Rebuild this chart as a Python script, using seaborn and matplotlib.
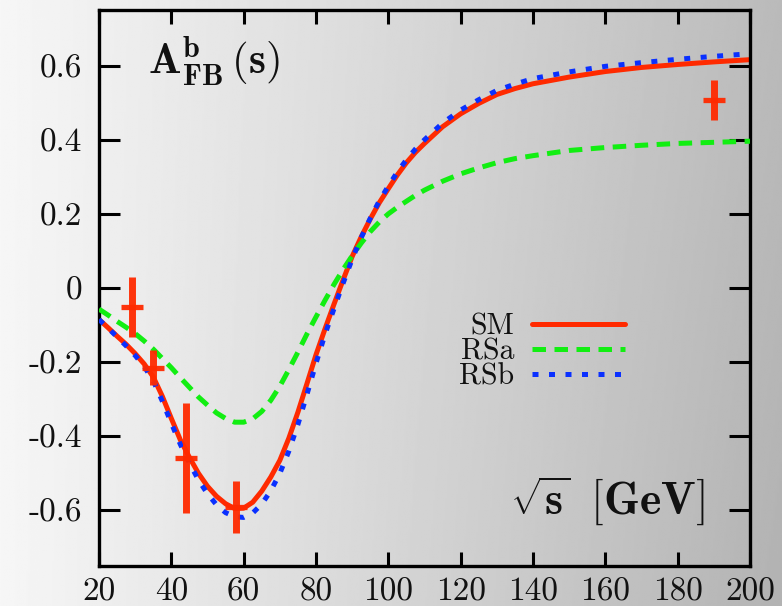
import numpy as np
import pandas as pd
import matplotlib
matplotlib.use("Agg")
import matplotlib.pyplot as plt
from matplotlib.lines import Line2D
from matplotlib.font_manager import FontProperties
import seaborn as sns

# centre-of-mass energy grid (GeV) for the model curves
sqrt_s = [20, 22.5, 25, 27.5, 30, 32.5, 35, 37.5, 40, 42.5, 45, 47.5, 50, 52.5,
          55, 57.5, 60, 62.5, 65, 67.5, 70, 72.5, 75, 77.5, 80, 82.5, 85, 87.5,
          90, 92.5, 95, 97.5, 100, 102.5, 105, 107.5, 110, 115, 120, 125, 130,
          135, 140, 150, 160, 170, 180, 190, 200]

afb_sm = [-0.085, -0.107, -0.130, -0.152, -0.177, -0.205, -0.240, -0.292, -0.352,
          -0.410, -0.457, -0.500, -0.535, -0.562, -0.582, -0.595, -0.594, -0.578,
          -0.548, -0.510, -0.465, -0.405, -0.335, -0.258, -0.180, -0.110, -0.043,
          0.022, 0.085, 0.138, 0.186, 0.230, 0.268, 0.305, 0.338, 0.366, 0.390,
          0.435, 0.470, 0.498, 0.522, 0.538, 0.551, 0.569, 0.584, 0.595, 0.603,
          0.610, 0.616]

afb_rsa = [-0.057, -0.073, -0.090, -0.106, -0.123, -0.143, -0.165, -0.190, -0.215,
           -0.242, -0.268, -0.294, -0.316, -0.337, -0.352, -0.362, -0.362, -0.353,
           -0.333, -0.303, -0.265, -0.220, -0.173, -0.124, -0.078, -0.033, 0.010,
           0.050, 0.087, 0.121, 0.152, 0.178, 0.200, 0.218, 0.234, 0.250, 0.264,
           0.288, 0.308, 0.324, 0.338, 0.349, 0.357, 0.371, 0.379, 0.385, 0.390,
           0.393, 0.396]

afb_rsb = [-0.085, -0.108, -0.132, -0.156, -0.182, -0.212, -0.250, -0.305, -0.365,
           -0.422, -0.472, -0.518, -0.555, -0.585, -0.606, -0.617, -0.619, -0.607,
           -0.583, -0.547, -0.500, -0.440, -0.368, -0.287, -0.203, -0.125, -0.055,
           0.013, 0.078, 0.136, 0.188, 0.235, 0.275, 0.313, 0.346, 0.375, 0.400,
           0.445, 0.480, 0.508, 0.533, 0.550, 0.565, 0.583, 0.598, 0.608, 0.617,
           0.625, 0.632]

# measurements
meas_s = [29, 35, 44, 58, 190]
meas_afb = [-0.051, -0.215, -0.458, -0.592, 0.506]
meas_err = [0.080, 0.047, 0.148, 0.070, 0.054]

x_ticks = [20, 40, 60, 80, 100, 120, 140, 160, 180, 200]
y_ticks = [-0.6, -0.4, -0.2, 0.0, 0.2, 0.4, 0.6]
y_tick_labels = ["-0.6", "-0.4", "-0.2", "0", "0.2", "0.4", "0.6"]

series_names = ["SM", "RSa", "RSb"]
series_colors = {"SM": "#ff2a00", "RSa": "#12ee12", "RSb": "#0a30ff"}

sns.set_theme(style="white")
plt.rcParams["mathtext.fontset"] = "cm"
plt.rcParams["font.family"] = ["cmr10", "DejaVu Serif"]
plt.rcParams["axes.unicode_minus"] = False

W, H = 782, 606
fig = plt.figure(figsize=(W / 100, H / 100), dpi=100)

# soft grey backdrop, light on the left and darker towards the right
bg = fig.add_axes([0, 0, 1, 1], zorder=-10)
gx = np.linspace(0, 1, 400)
gy = np.linspace(0, 1, 300)
GX, GY = np.meshgrid(gx, gy)
shade = 0.965 - 0.235 * GX ** 1.05 - 0.03 * GX * GY
bg.imshow(shade, extent=[0, 1, 0, 1], aspect="auto", cmap="gray",
          vmin=0, vmax=1, origin="upper", interpolation="bilinear")
bg.set_axis_off()

ax = fig.add_axes([99 / W, (H - 566) / H, (750 - 99) / W, (566 - 10) / H])
ax.patch.set_alpha(0)

curves = pd.DataFrame({"sqrt_s": sqrt_s, "SM": afb_sm, "RSa": afb_rsa, "RSb": afb_rsb})
styles = {"SM": "-", "RSa": (0, (2.7, 1.7)), "RSb": (0, (1.2, 2.1))}
for name in ["RSa", "SM", "RSb"]:
    sns.lineplot(data=curves, x="sqrt_s", y=name, ax=ax, color=series_colors[name],
                 linewidth=3.6, linestyle=styles[name],
                 zorder=3 if name != "SM" else 2)

ax.errorbar(meas_s, meas_afb, yerr=meas_err, fmt="_", color="#ff2a00",
            ecolor="#ff2a00", elinewidth=5, capsize=0, markersize=16,
            markeredgewidth=3.8, zorder=4, alpha=0.95)

ax.set_xlim(20, 200)
ax.set_ylim(-0.75, 0.75)
ax.set_xticks(x_ticks)
ax.set_xticklabels([str(v) for v in x_ticks])
ax.set_yticks(y_ticks)
ax.set_yticklabels(y_tick_labels)
ax.set_xlabel("")
ax.set_ylabel("")

for lbl in ax.get_xticklabels() + ax.get_yticklabels():
    lbl.set_fontfamily("cmr10")
    lbl.set_fontsize(24)
    lbl.set_color("#111111")

ax.tick_params(axis="x", which="both", direction="in", top=True, bottom=True,
               length=10, width=2.2, pad=8, color="black")
ax.tick_params(axis="y", which="both", direction="in", left=True, right=True,
               length=15, width=2.2, pad=12, color="black")
for sp in ax.spines.values():
    sp.set_visible(True)
    sp.set_color("black")
    sp.set_linewidth(2.4)

ax.text(0.075, 0.883, r"$\mathbf{A^{b}_{FB}\,(s)}$", transform=ax.transAxes,
        fontsize=31, ha="left", va="baseline", color="#111111")
ax.text(0.931, 0.092, r"$\sqrt{\mathbf{s}}\;\;\mathbf{[GeV]}$", transform=ax.transAxes,
        fontsize=33, ha="right", va="baseline", color="#111111")

handles = [Line2D([0], [0], color=series_colors[n], linewidth=3.6, linestyle=styles[n])
           for n in series_names]
ax.legend(handles, series_names, loc="upper right", bbox_to_anchor=(0.808, 0.455),
          frameon=False, markerfirst=False, borderpad=0, borderaxespad=0,
          handlelength=3.1, handletextpad=0.6, labelspacing=-0.08,
          labelcolor="#111111", prop=FontProperties(family="cmr10", size=21.5))

fig.savefig("out.png", dpi=100)
